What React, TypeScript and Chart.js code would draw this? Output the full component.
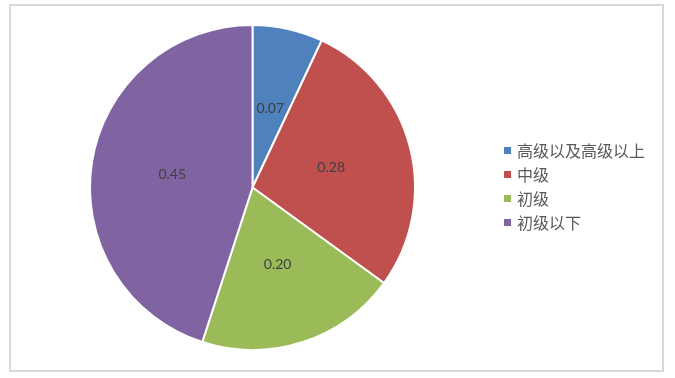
import React, { useEffect, useRef } from "react";
import { Chart, registerables } from "chart.js";

Chart.register(...registerables);

const categories = ["高级以及高级以上", "中级", "初级", "初级以下"];
const values = [0.07, 0.28, 0.2, 0.45];
const valueLabels = ["0.07", "0.28", "0.20", "0.45"];
const colors = ["#4F81BD", "#C0504D", "#9BBB59", "#8064A2"];

const framePlugin = {
  id: "frame",
  beforeDraw(chart: any) {
    const ctx = chart.ctx;
    ctx.save();
    ctx.fillStyle = "#ffffff";
    ctx.fillRect(0, 0, chart.width, chart.height);
    ctx.strokeStyle = "#d9d9d9";
    ctx.lineWidth = 2;
    ctx.strokeRect(10, 5, 653, 366);
    ctx.restore();
  },
};

const labelPlugin = {
  id: "sliceLabels",
  afterDatasetsDraw(chart: any) {
    const ctx = chart.ctx;
    const meta = chart.getDatasetMeta(0);
    ctx.save();
    ctx.font = "14px Lato, 'Noto Sans CJK SC', sans-serif";
    ctx.fillStyle = "#404040";
    ctx.textAlign = "center";
    ctx.textBaseline = "middle";
    meta.data.forEach((arc: any, i: number) => {
      const p = arc.getCenterPoint();
      ctx.fillText(valueLabels[i], p.x, p.y);
    });
    ctx.restore();
  },
};

const legendPlugin = {
  id: "customLegend",
  afterDraw(chart: any) {
    const ctx = chart.ctx;
    ctx.save();
    ctx.font = "16px 'Noto Sans CJK SC', sans-serif";
    ctx.textBaseline = "middle";
    ctx.textAlign = "left";
    categories.forEach((c, i) => {
      const y = 151 + i * 24;
      ctx.fillStyle = colors[i];
      ctx.fillRect(504, y - 4, 7, 7);
      ctx.fillStyle = "#595959";
      ctx.fillText(c, 517, y);
    });
    ctx.restore();
  },
};

export default function App() {
  const ref = useRef<HTMLCanvasElement>(null);
  useEffect(() => {
    if (!ref.current) return;
    const chart = new Chart(ref.current, {
      type: "pie",
      data: {
        labels: categories,
        datasets: [
          {
            data: values,
            backgroundColor: colors,
            borderColor: "#ffffff",
            borderWidth: 2,
          },
        ],
      },
      options: {
        responsive: false,
        animation: false,
        devicePixelRatio: 1,
        layout: { padding: { left: 89, right: 259, top: 24, bottom: 27 } },
        plugins: {
          legend: { display: false },
          tooltip: { enabled: false },
        },
      },
      plugins: [framePlugin, labelPlugin, legendPlugin],
    });
    return () => chart.destroy();
  }, []);
  return (
    <div style={{ position: "fixed", left: 0, top: 0, width: 675, height: 378, background: "#fff" }}>
      <canvas ref={ref} width={675} height={378} style={{ display: "block" }} />
    </div>
  );
}
